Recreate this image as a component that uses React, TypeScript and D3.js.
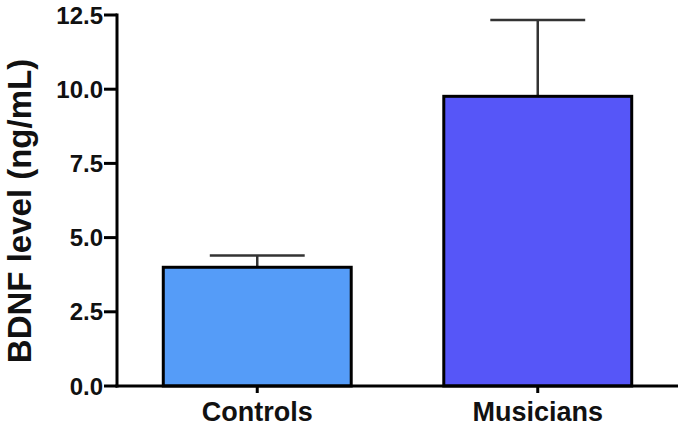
import React from "react";
import * as d3 from "d3";

const categories = ["Controls", "Musicians"];
const means = [4.0, 9.76];
const errors = [0.4, 2.57];
const fills = ["#559cf8", "#5656f8"];
const yTicks = [0, 2.5, 5, 7.5, 10, 12.5];

const W = 685;
const H = 427;
const left = 117;
const right = 678;
const top = 15;
const bottom = 386;

export default function App() {
  const y = d3.scaleLinear().domain([0, 12.5]).range([bottom, top]);
  const x = d3.scalePoint<string>().domain(categories).range([left, right]).padding(0.5);
  const step = x.step();
  const barW = step * 0.67;
  const capW = barW * 0.505;
  const font = "'Liberation Sans', Arial, sans-serif";

  return (
    <svg width={W} height={H} style={{ position: "absolute", left: 0, top: 0, background: "#fff" }}>
      {categories.map((c, i) => {
        const cx = x(c)!;
        return (
          <g key={"e" + c} stroke="#333" strokeWidth={2.5}>
            <line x1={cx} x2={cx} y1={y(means[i])} y2={y(means[i] + errors[i])} />
            <line x1={cx - capW / 2} x2={cx + capW / 2} y1={y(means[i] + errors[i])} y2={y(means[i] + errors[i])} />
          </g>
        );
      })}
      {categories.map((c, i) => {
        const cx = x(c)!;
        return (
          <rect
            key={"b" + c}
            x={cx - barW / 2}
            y={y(means[i])}
            width={barW}
            height={y(0) - y(means[i])}
            fill={fills[i]}
            stroke="#000"
            strokeWidth={3}
          />
        );
      })}
      <line x1={left} x2={left} y1={top - 1.5} y2={bottom + 1.5} stroke="#000" strokeWidth={3} />
      {yTicks.map((t) => (
        <g key={"t" + t}>
          <line x1={left - 13} x2={left} y1={y(t)} y2={y(t)} stroke="#000" strokeWidth={3} />
          <text
            x={left - 14}
            y={y(t)}
            dy="0.36em"
            textAnchor="end"
            fontFamily={font}
            fontWeight="bold"
            fontSize={24}
            fill="#111"
          >
            {t.toFixed(1)}
          </text>
        </g>
      ))}
      <line x1={left - 1.5} x2={right} y1={bottom} y2={bottom} stroke="#000" strokeWidth={3} />
      {categories.map((c) => (
        <g key={"x" + c}>
          <line x1={x(c)!} x2={x(c)!} y1={bottom} y2={bottom + 7} stroke="#000" strokeWidth={3} />
          <text
            x={x(c)!}
            y={421}
            textAnchor="middle"
            fontFamily={font}
            fontWeight="bold"
            fontSize={27}
            fill="#111"
          >
            {c}
          </text>
        </g>
      ))}
      <text
        transform={`translate(31, 211) rotate(-90)`}
        textAnchor="middle"
        fontFamily={font}
        fontWeight="bold"
        fontSize={33}
        fill="#111"
      >
        BDNF level (ng/mL)
      </text>
    </svg>
  );
}
